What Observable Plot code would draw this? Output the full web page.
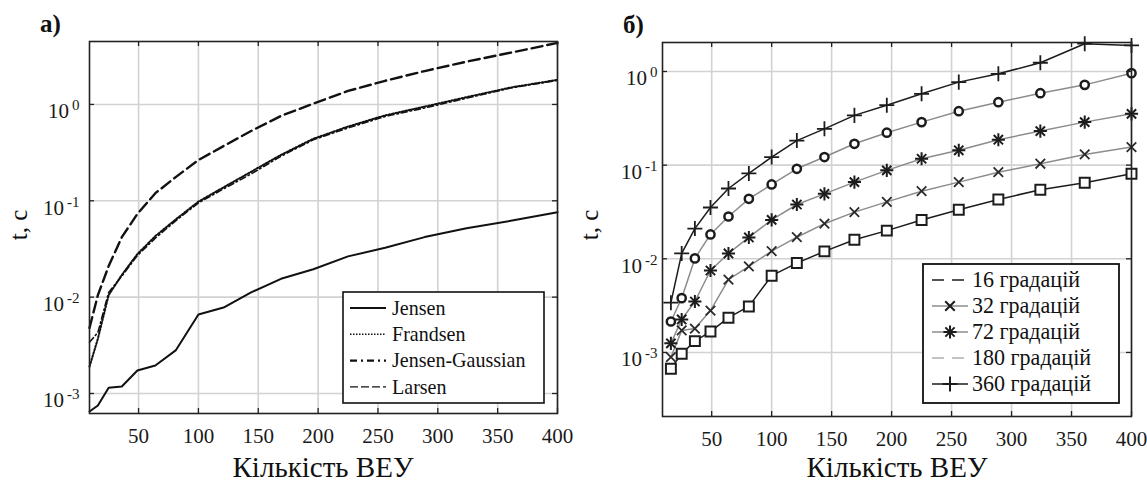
<!DOCTYPE html>
<html><head><meta charset="utf-8">
<script src="https://cdn.jsdelivr.net/npm/d3@7"></script>
<script src="https://cdn.jsdelivr.net/npm/@observablehq/plot@0.6"></script>
<style>
html,body{margin:0;padding:0;background:#fff;}
#wrap{position:relative;width:1147px;height:487px;overflow:hidden;}
.panel{position:absolute;top:0;}
#over{position:absolute;left:0;top:0;pointer-events:none;}
</style></head>
<body><div id="wrap"></div>
<script>
// ---------- data ----------
const xTicks = [50, 100, 150, 200, 250, 300, 350, 400];
const yTicks = [1e-3, 1e-2, 1e-1, 1];

// panel a) : number of turbines
const nA = [9, 16, 25, 36, 49, 64, 81, 100, 121, 144, 169, 196, 225, 256, 289, 324, 361, 400];
const jensen   = [6.5e-4, 7.5e-4, 1.15e-3, 1.18e-3, 1.73e-3, 1.95e-3, 2.8e-3, 6.6e-3, 7.8e-3, 0.0112, 0.0155, 0.0195, 0.0265, 0.0325, 0.042, 0.052, 0.062, 0.076];
const frandsen = [1.9e-3, 3.7e-3, 0.0105, 0.017, 0.028, 0.043, 0.064, 0.098, 0.138, 0.20, 0.30, 0.44, 0.59, 0.77, 0.95, 1.19, 1.5, 1.8];
const jensenGaussian = [3.4e-3, 4.3e-3, 0.0112, 0.0165, 0.027, 0.041, 0.062, 0.095, 0.133, 0.19, 0.29, 0.43, 0.57, 0.75, 0.92, 1.16, 1.48, 1.78];
const larsen   = [4.8e-3, 0.0105, 0.021, 0.042, 0.073, 0.12, 0.176, 0.265, 0.37, 0.53, 0.76, 1.02, 1.38, 1.76, 2.22, 2.78, 3.45, 4.35];
const legendA = ["Jensen", "Frandsen", "Jensen-Gaussian", "Larsen"];

// panel б) : gradations
const nB = [16, 25, 36, 49, 64, 81, 100, 121, 144, 169, 196, 225, 256, 289, 324, 361, 400];
const g16  = [6.7e-4, 9.7e-4, 1.32e-3, 1.67e-3, 2.35e-3, 3.1e-3, 6.6e-3, 9.0e-3, 0.012, 0.016, 0.020, 0.026, 0.0334, 0.043, 0.0546, 0.0648, 0.081];
const g32  = [8.9e-4, 1.72e-3, 1.8e-3, 2.8e-3, 6.0e-3, 8.3e-3, 0.0121, 0.017, 0.0237, 0.0315, 0.0405, 0.0527, 0.0659, 0.0841, 0.1035, 0.13, 0.156];
const g72  = [1.25e-3, 2.25e-3, 3.5e-3, 7.5e-3, 0.0114, 0.0169, 0.026, 0.038, 0.0494, 0.0659, 0.088, 0.117, 0.144, 0.187, 0.231, 0.288, 0.353];
const g180 = [2.14e-3, 3.8e-3, 0.0101, 0.0182, 0.0283, 0.0437, 0.0622, 0.0914, 0.122, 0.169, 0.222, 0.288, 0.377, 0.47, 0.587, 0.72, 0.96];
const g360 = [3.4e-3, 0.0114, 0.021, 0.0353, 0.0563, 0.0815, 0.122, 0.183, 0.244, 0.34, 0.437, 0.578, 0.77, 0.945, 1.24, 1.98, 1.9];
const legendB = ["16 градацій", "32 градацій", "72 градацій", "180 градацій", "360 градацій"];

const xLabel = "Кількість ВЕУ";
const yLabel = "t, c";
const titles = ["a)", "б)"];

// ---------- helpers ----------
const ns = "http://www.w3.org/2000/svg";
const FONT = "Liberation Serif, Tinos, Times New Roman, DejaVu Serif, serif";
const rows = (xs, ys) => xs.map((x, i) => ({x, y: ys[i]}));
const wrap = document.getElementById("wrap");
const black = "#1c1c1c", gray = "#8c8c8c";
let J = 0;

function makePanel({left, width, ml, mr, mt, mb, yDomain, pad, marks}) {
  const H = 487;
  const innerH = H - mt - mb, innerW = width - ml - mr;
  const tk = {stroke: "#222", strokeWidth: 1.3};
  const svg = Plot.plot({
    width, height: H, marginLeft: ml, marginRight: mr, marginTop: mt, marginBottom: mb,
    x: {domain: [9, 400]},
    y: {type: "log", domain: yDomain},
    style: {fontFamily: FONT, fontSize: (21 + J) + "px", color: "#1a1a1a", background: "transparent", overflow: "visible"},
    marks: [
      Plot.gridX(xTicks, {stroke: "#d2d2d2", strokeOpacity: 1, strokeWidth: 1.6}),
      Plot.gridY(yTicks, {stroke: "#d2d2d2", strokeOpacity: 1, strokeWidth: 1.6}),
      ...marks,
      Plot.tickX(xTicks, {x: d => d, insetTop: innerH - 5, ...tk}),
      Plot.tickX(xTicks, {x: d => d, insetBottom: innerH - 5, ...tk}),
      Plot.tickY(yTicks, {y: d => d, insetLeft: innerW - 5, ...tk}),
      Plot.tickY(yTicks, {y: d => d, insetRight: innerW - 5, ...tk}),
      Plot.frame({stroke: "#222", strokeWidth: 1.6}),
      Plot.axisX(xTicks, {tickSize: 0, tickPadding: 15, label: null, tickFormat: d => String(d)}),
      Plot.axisY(yTicks, {tickSize: 0, tickPadding: pad, label: null, dy: 7,
        tickFormat: d => String(Math.round(Math.log10(d)))})
    ]
  });
  svg.querySelectorAll("text").forEach(t => t.setAttribute("font-family", FONT));
  // superscript exponents on the log tick labels
  svg.querySelectorAll('g[aria-label="y-axis tick label"] text').forEach(t => {
    const e = t.textContent;
    t.textContent = "";
    const a = document.createElementNS(ns, "tspan"); a.textContent = "10"; t.appendChild(a);
    const b = document.createElementNS(ns, "tspan"); b.textContent = e;
    b.setAttribute("dy", "-8"); b.setAttribute("dx", "3"); b.setAttribute("font-size", 15 + J);
    t.appendChild(b);
  });
  const div = document.createElement("div");
  div.className = "panel"; div.style.left = left + "px";
  div.appendChild(svg);
  wrap.appendChild(div);
}

function render() {
  wrap.innerHTML = "";
  // ---------- panel a ----------
  makePanel({
    left: 0, width: 570, ml: 89, mr: 13, mt: 41, mb: 74, yDomain: [6.2e-4, 4.5], pad: 10,
    marks: [
      Plot.line(rows(nA, jensen), {x: "x", y: "y", stroke: "#111", strokeWidth: 2}),
      Plot.line(rows(nA, frandsen), {x: "x", y: "y", stroke: "#111", strokeWidth: 2, strokeDasharray: "1.6,1.8"}),
      Plot.line(rows(nA, jensenGaussian), {x: "x", y: "y", stroke: "#111", strokeWidth: 1.6, strokeDasharray: "6,3,1.5,3"}),
      Plot.line(rows(nA, larsen), {x: "x", y: "y", stroke: "#111", strokeWidth: 2.4, strokeDasharray: "11,5"})
    ]
  });
  // ---------- panel б ----------
  makePanel({
    left: 570, width: 577, ml: 92, mr: 16, mt: 42, mb: 71, yDomain: [2.07e-4, 2.04], pad: 5,
    marks: [
      Plot.line(rows(nB, g16), {x: "x", y: "y", stroke: black, strokeWidth: 1.5}),
      Plot.line(rows(nB, g32), {x: "x", y: "y", stroke: gray, strokeWidth: 1.5}),
      Plot.line(rows(nB, g72), {x: "x", y: "y", stroke: gray, strokeWidth: 1.5}),
      Plot.line(rows(nB, g180), {x: "x", y: "y", stroke: gray, strokeWidth: 1.5}),
      Plot.line(rows(nB, g360), {x: "x", y: "y", stroke: black, strokeWidth: 1.5}),
      Plot.dot(rows(nB, g16), {x: "x", y: "y", symbol: "square", r: 5.6, stroke: black, strokeWidth: 2, fill: "white"}),
      Plot.dot(rows(nB, g32), {x: "x", y: "y", symbol: "times", r: 4.4, stroke: "#2a2a2a", strokeWidth: 1.8, fill: "none"}),
      Plot.dot(rows(nB, g72), {x: "x", y: "y", symbol: "plus", r: 4.3, stroke: black, strokeWidth: 2, fill: "none"}),
      Plot.dot(rows(nB, g72), {x: "x", y: "y", symbol: "times", r: 4.3, stroke: black, strokeWidth: 2, fill: "none"}),
      Plot.dot(rows(nB, g180), {x: "x", y: "y", symbol: "circle", r: 4.1, stroke: black, strokeWidth: 2.5, fill: "white"}),
      Plot.dot(rows(nB, g360), {x: "x", y: "y", symbol: "plus", r: 4.9, stroke: black, strokeWidth: 1.8, fill: "none"})
    ]
  });

  // ---------- overlay: titles, axis labels, legends ----------
  const over = d3.select(wrap).append("svg").attr("id", "over")
    .attr("width", 1147).attr("height", 487).attr("fill", "#111");
  const txt = (sel) => sel.append("text").attr("font-family", FONT);

  txt(over).attr("x", 40).attr("y", 32).attr("font-size", 25 + J).attr("font-weight", "bold").text(titles[0]);
  txt(over).attr("x", 623).attr("y", 33).attr("font-size", 25 + J).attr("font-weight", "bold").text(titles[1]);

  txt(over).attr("x", 323).attr("y", 477).attr("text-anchor", "middle").attr("font-size", 29 + J).text(xLabel);
  txt(over).attr("x", 897).attr("y", 477).attr("text-anchor", "middle").attr("font-size", 29 + J).text(xLabel);

  txt(over).attr("transform", "translate(27,225) rotate(-90)").attr("text-anchor", "middle").attr("font-size", 25 + J).text(yLabel);
  txt(over).attr("transform", "translate(598,225) rotate(-90)").attr("text-anchor", "middle").attr("font-size", 25 + J).text(yLabel);

  // legend a
  const la = over.append("g");
  la.append("rect").attr("x", 343).attr("y", 292).attr("width", 201).attr("height", 111)
    .attr("fill", "white").attr("stroke", "#111").attr("stroke-width", 1.6);
  const styleA = [
    {dash: null, w: 2}, {dash: "1.5,1.5", w: 1.6}, {dash: "7,4,2,4", w: 2.4}, {dash: "8,3", w: 1.3}
  ];
  legendA.forEach((name, i) => {
    const y = 308 + i * 26.3;
    la.append("line").attr("x1", 350).attr("x2", 386).attr("y1", y).attr("y2", y)
      .attr("stroke", "#111").attr("stroke-width", styleA[i].w).attr("stroke-dasharray", styleA[i].dash);
    txt(la).attr("x", 392).attr("y", y).attr("dy", "0.33em").attr("font-size", 20 + J).text(name);
  });

  // legend б
  const lb = over.append("g");
  lb.append("rect").attr("x", 923).attr("y", 264).attr("width", 196).attr("height", 139)
    .attr("fill", "white").attr("stroke", "#111").attr("stroke-width", 1.8);
  const styleB = [
    {stroke: black, dash: "12,8", sym: []},
    {stroke: gray, dash: null, sym: [[d3.symbolTimes, 4.4]]},
    {stroke: gray, dash: null, sym: [[d3.symbolPlus, 4.3], [d3.symbolTimes, 4.3]]},
    {stroke: "#b0b0b0", dash: "12,8", sym: []},
    {stroke: black, dash: null, sym: [[d3.symbolPlus, 4.9]]}
  ];
  legendB.forEach((name, i) => {
    const y = 280 + i * 26;
    lb.append("line").attr("x1", 932).attr("x2", 968).attr("y1", y).attr("y2", y)
      .attr("stroke", styleB[i].stroke).attr("stroke-width", 1.5).attr("stroke-dasharray", styleB[i].dash);
    styleB[i].sym.forEach(([s, r]) => {
      lb.append("path").attr("d", d3.symbol(s, r * r * Math.PI)())
        .attr("transform", `translate(950,${y})`).attr("stroke", black).attr("stroke-width", 2).attr("fill", "none");
    });
    txt(lb).attr("x", 972).attr("y", y).attr("dy", "0.33em").attr("font-size", 22 + J).text(name);
  });
}

render();
[60, 200, 450, 900].forEach((ms, k) => setTimeout(() => { J = (k + 1) * 0.01; render(); }, ms));
</script>
</body></html>
